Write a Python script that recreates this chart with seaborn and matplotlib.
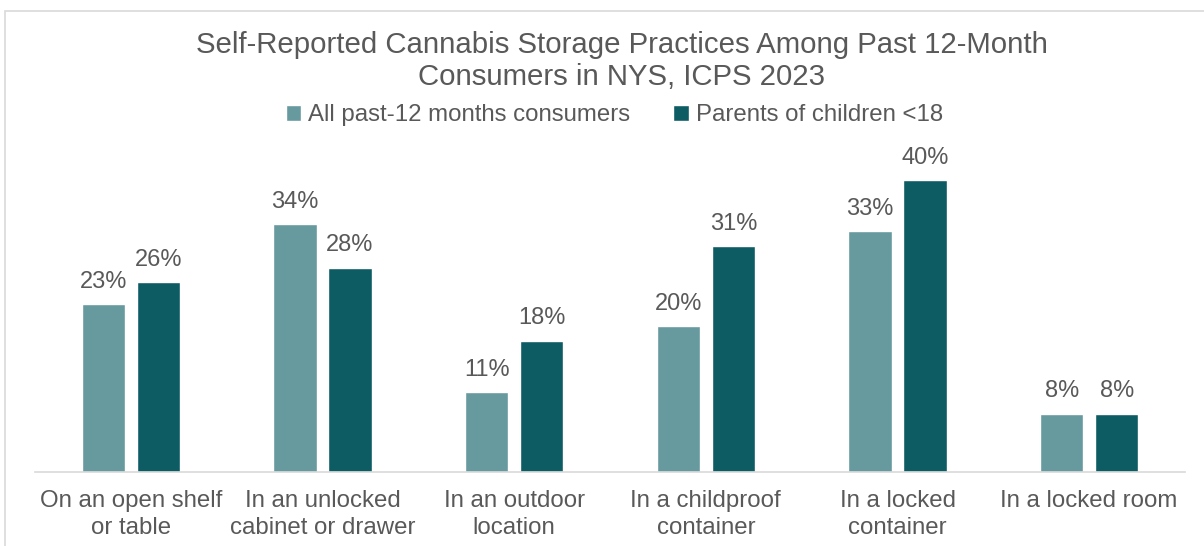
import matplotlib
matplotlib.use("Agg")
import matplotlib.pyplot as plt
import seaborn as sns
import pandas as pd
from matplotlib.patches import Rectangle

# Storage locations and shares (%) for each respondent group
categories = [
    "On an open shelf\nor table",
    "In an unlocked\ncabinet or drawer",
    "In an outdoor\nlocation",
    "In a childproof\ncontainer",
    "In a locked\ncontainer",
    "In a locked room",
]
all_consumers = [23, 34, 11, 20, 33, 8]
parents = [26, 28, 18, 31, 40, 8]
series_names = ["All past-12 months consumers", "Parents of children <18"]

df = pd.DataFrame({
    "category": categories * 2,
    "value": all_consumers + parents,
    "group": [series_names[0]] * len(categories) + [series_names[1]] * len(categories),
})

sns.set_theme(style="white")
plt.rcParams["font.family"] = ["Liberation Sans", "DejaVu Sans"]

TEXT = "#595959"
palette = {series_names[0]: "#669A9E", series_names[1]: "#0D5C63"}

fig = plt.figure(figsize=(12.04, 5.46), dpi=100)
ax = fig.add_axes([35 / 1204, 74 / 546, 1150 / 1204, 0.6017])

sns.barplot(data=df, x="category", y="value", hue="group", palette=palette,
            width=0.574, gap=0.218, ax=ax, saturation=1, errorbar=None)

for cont in ax.containers:
    ax.bar_label(cont, labels=[f"{v:.0f}%" for v in cont.datavalues],
                 padding=8, fontsize=17, color=TEXT)

ax.set_ylim(0, 45)
ax.set_xlim(-0.5, len(categories) - 0.5)
ax.set_xlabel("")
ax.set_ylabel("")
ax.set_yticks([])
for side in ["top", "right", "left"]:
    ax.spines[side].set_visible(False)
ax.spines["bottom"].set_color("#D9D9D9")
ax.spines["bottom"].set_linewidth(1.2)
ax.tick_params(axis="x", length=0, pad=13, labelsize=17.3, labelcolor=TEXT)
for lbl in ax.get_xticklabels():
    lbl.set_linespacing(1.32)

handles, labels = ax.get_legend_handles_labels()
ax.get_legend().remove()
fig.legend(handles, labels, loc="center", bbox_to_anchor=(614.5 / 1204, 1 - 115 / 546),
           ncol=2, frameon=False, fontsize=17.3, labelcolor=TEXT,
           handlelength=0.65, handleheight=0.65, handletextpad=0.3, columnspacing=1.78)

fig.text(622 / 1204, 1 - 61 / 546,
         "Self-Reported Cannabis Storage Practices Among Past 12-Month\nConsumers in NYS, ICPS 2023",
         ha="center", va="center", fontsize=21.2, color=TEXT, linespacing=1.15)

# Chart-area outline
fig.patches.append(Rectangle((5 / 1204, -0.1), 1.2, 1 - 11 / 546 + 0.1,
                             transform=fig.transFigure, fill=False,
                             edgecolor="#D9D9D9", linewidth=1.2))

fig.savefig("out.png", dpi=100)
